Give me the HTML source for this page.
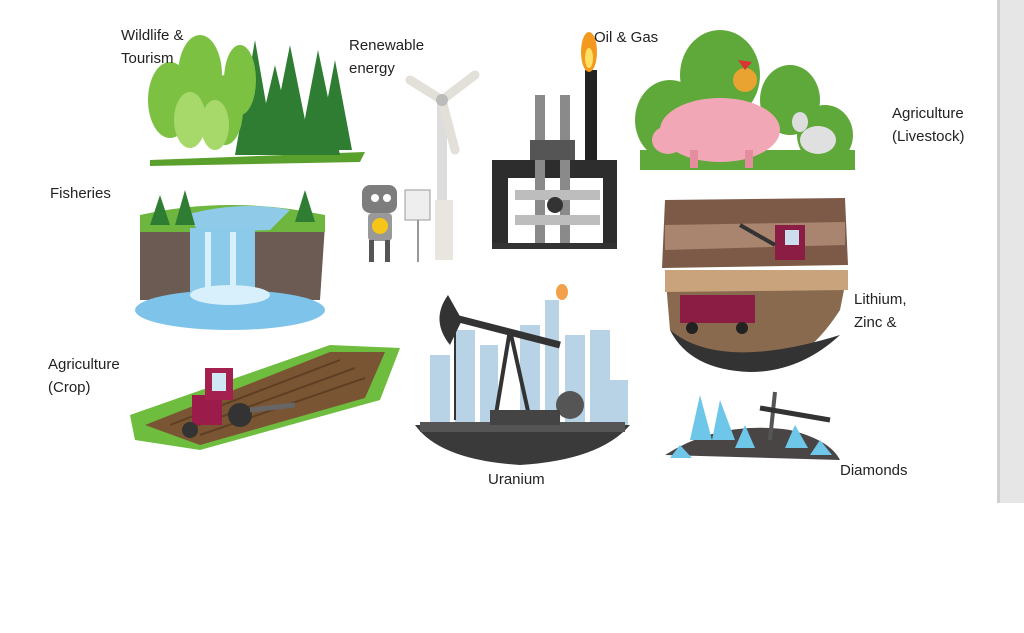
<!DOCTYPE html>
<html><head><meta charset="utf-8"><style>
body{margin:0;width:1024px;height:633px;background:#fff;overflow:hidden;font-family:"Liberation Sans",sans-serif}
svg{position:absolute;left:0;top:0}
.t{position:absolute;font-size:15px;color:#222;line-height:23px}
</style></head><body>
<svg width="1024" height="633" viewBox="0 0 1024 633">
<rect x="998" y="0" width="26" height="503" fill="#e6e6e6"/>
<rect x="997" y="0" width="3" height="503" fill="#cfcfcf"/>
<!-- forest -->
<path d="M150 160 L365 152 L360 162 L150 166Z" fill="#5aa02c"/>
<g fill="#2f7d32">
<polygon points="255,40 235,155 275,155"/><polygon points="290,45 268,155 312,155"/><polygon points="318,50 298,155 340,155"/><polygon points="335,60 318,150 352,150"/><polygon points="275,65 255,150 295,150"/>
</g>
<g fill="#7cc142"><ellipse cx="170" cy="100" rx="22" ry="38"/><ellipse cx="200" cy="75" rx="22" ry="40"/><ellipse cx="225" cy="110" rx="18" ry="35"/><ellipse cx="240" cy="80" rx="16" ry="35"/></g>
<g fill="#a6d86a"><ellipse cx="190" cy="120" rx="16" ry="28"/><ellipse cx="215" cy="125" rx="14" ry="25"/></g>
<!-- turbine -->
<rect x="437" y="100" width="10" height="160" fill="#ddd"/>
<rect x="435" y="200" width="18" height="60" fill="#e8e6df"/>
<g stroke="#e3e0da" stroke-width="9" stroke-linecap="round"><line x1="442" y1="100" x2="410" y2="80"/><line x1="442" y1="100" x2="475" y2="75"/><line x1="442" y1="100" x2="455" y2="150"/></g>
<circle cx="442" cy="100" r="6" fill="#bbb"/>
<rect x="405" y="190" width="25" height="30" fill="#eee" stroke="#999"/>
<line x1="418" y1="220" x2="418" y2="262" stroke="#999" stroke-width="2"/>
<!-- robot -->
<rect x="362" y="185" width="35" height="28" rx="8" fill="#7d7d7d"/>
<circle cx="375" cy="198" r="4" fill="#fff"/><circle cx="387" cy="198" r="4" fill="#fff"/>
<rect x="368" y="213" width="24" height="28" rx="4" fill="#999"/>
<circle cx="380" cy="226" r="8" fill="#f5c518"/>
<rect x="369" y="240" width="5" height="22" fill="#555"/><rect x="385" y="240" width="5" height="22" fill="#555"/>
<!-- oil gas -->
<rect x="585" y="70" width="12" height="110" fill="#222"/>
<ellipse cx="589" cy="52" rx="8" ry="20" fill="#f39a1e"/><ellipse cx="589" cy="58" rx="4" ry="10" fill="#ffe066"/>
<rect x="492" y="160" width="125" height="88" fill="#2d2d2d"/>
<rect x="508" y="178" width="95" height="72" fill="#fff"/>
<rect x="535" y="95" width="10" height="150" fill="#8a8a8a"/><rect x="560" y="95" width="10" height="150" fill="#8a8a8a"/>
<rect x="530" y="140" width="45" height="20" fill="#555"/>
<rect x="515" y="190" width="85" height="10" fill="#bdbdbd"/><rect x="515" y="215" width="85" height="10" fill="#bdbdbd"/>
<circle cx="555" cy="205" r="8" fill="#333"/>
<rect x="492" y="243" width="125" height="6" fill="#333"/>
<!-- livestock -->
<g fill="#5fa83a"><ellipse cx="720" cy="75" rx="40" ry="45"/><ellipse cx="670" cy="120" rx="35" ry="40"/><ellipse cx="790" cy="100" rx="30" ry="35"/><ellipse cx="825" cy="135" rx="28" ry="30"/></g>
<rect x="640" y="150" width="215" height="20" fill="#5fa83a"/>
<ellipse cx="720" cy="130" rx="60" ry="32" fill="#f2a7b6"/><ellipse cx="668" cy="140" rx="16" ry="14" fill="#f2a7b6"/>
<rect x="690" y="150" width="8" height="18" fill="#e38d9e"/><rect x="745" y="150" width="8" height="18" fill="#e38d9e"/>
<ellipse cx="818" cy="140" rx="18" ry="14" fill="#e0e0e0"/><ellipse cx="800" cy="122" rx="8" ry="10" fill="#ddd"/>
<circle cx="745" cy="80" r="12" fill="#e8a330"/><polygon points="745,70 738,60 752,62" fill="#d33"/>
<!-- waterfall -->
<path d="M140 225 L325 225 L320 300 L140 300Z" fill="#6b5b52"/>
<path d="M140 215 Q230 195 325 215 L325 232 L140 232Z" fill="#6fb63f"/>
<path d="M185 215 Q240 200 290 210 L270 230 L200 232Z" fill="#8fcbe8"/>
<rect x="190" y="228" width="65" height="70" fill="#8ccae9"/>
<rect x="205" y="232" width="6" height="60" fill="#d8f0fb"/><rect x="230" y="232" width="6" height="60" fill="#d8f0fb"/>
<ellipse cx="230" cy="310" rx="95" ry="20" fill="#7ec3ea"/>
<ellipse cx="230" cy="295" rx="40" ry="10" fill="#d8f0fb"/>
<g fill="#2e7d32"><polygon points="160,195 150,225 170,225"/><polygon points="185,190 175,225 195,225"/><polygon points="305,190 295,222 315,222"/></g>
<!-- mining -->
<path d="M665 200 L845 198 L848 265 L662 268Z" fill="#7d5a47"/>
<path d="M665 225 L845 222 L845 245 L665 250Z" fill="#a98570"/>
<path d="M665 270 L848 270 L840 310 Q800 372 750 370 Q690 368 670 330Z" fill="#8a6a4f"/>
<path d="M665 270 L848 270 L848 290 L665 292Z" fill="#c9a37b"/>
<path d="M670 330 Q720 372 840 335 Q800 372 750 372 Q690 370 670 330Z" fill="#333"/>
<rect x="775" y="225" width="30" height="35" fill="#8b1d44"/><rect x="785" y="230" width="14" height="15" fill="#cde"/>
<line x1="775" y1="245" x2="740" y2="225" stroke="#333" stroke-width="4"/>
<rect x="680" y="295" width="75" height="28" fill="#8b1d44"/>
<circle cx="692" cy="328" r="6" fill="#222"/><circle cx="742" cy="328" r="6" fill="#222"/>
<!-- tractor field -->
<path d="M130 415 L330 345 L400 348 L380 400 L200 450 L135 440Z" fill="#6ebd3f"/>
<path d="M145 425 L330 352 L385 352 L365 398 L200 445Z" fill="#7a5533"/>
<g stroke="#5e3f24" stroke-width="2"><line x1="170" y1="425" x2="340" y2="360"/><line x1="185" y1="430" x2="355" y2="368"/><line x1="200" y1="435" x2="365" y2="378"/></g>
<rect x="192" y="395" width="30" height="30" fill="#9b1b4a"/><rect x="205" y="368" width="28" height="32" fill="#a3204f"/>
<rect x="212" y="373" width="14" height="18" fill="#cfe8f4"/>
<circle cx="240" cy="415" r="12" fill="#333"/><circle cx="190" cy="430" r="8" fill="#333"/>
<line x1="250" y1="410" x2="295" y2="405" stroke="#666" stroke-width="5"/>
<!-- pumpjack -->
<g fill="#b9d3e6"><rect x="430" y="355" width="20" height="70"/><rect x="455" y="330" width="20" height="95"/><rect x="480" y="345" width="18" height="80"/><rect x="520" y="325" width="20" height="100"/><rect x="545" y="300" width="14" height="125"/><rect x="565" y="335" width="20" height="90"/><rect x="590" y="330" width="20" height="95"/><rect x="610" y="380" width="18" height="45"/></g>
<path d="M415 425 L630 425 Q600 460 520 465 Q440 460 415 425Z" fill="#3a3a3a"/>
<path d="M420 422 L625 422 L625 432 L420 432Z" fill="#555"/>
<line x1="455" y1="318" x2="560" y2="345" stroke="#333" stroke-width="7"/>
<path d="M448 295 Q430 320 450 345 L462 320Z" fill="#333"/>
<line x1="510" y1="330" x2="495" y2="420" stroke="#333" stroke-width="4"/><line x1="510" y1="330" x2="530" y2="420" stroke="#333" stroke-width="4"/>
<line x1="455" y1="330" x2="455" y2="420" stroke="#333" stroke-width="2"/>
<circle cx="570" cy="405" r="14" fill="#555"/>
<rect x="490" y="410" width="70" height="15" fill="#444"/>
<ellipse cx="562" cy="292" rx="6" ry="8" fill="#f2a04a"/>
<!-- diamonds -->
<path d="M665 455 Q720 420 790 430 Q830 440 840 460 Z" fill="#4a4545"/>
<g fill="#6ec6e8"><polygon points="700,395 690,440 712,440"/><polygon points="720,400 712,440 735,440"/><polygon points="745,425 735,448 755,448"/><polygon points="795,425 785,448 808,448"/><polygon points="820,440 810,455 832,455"/><polygon points="680,445 670,458 692,458"/></g>
<line x1="775" y1="392" x2="770" y2="440" stroke="#555" stroke-width="4"/>
<line x1="760" y1="408" x2="830" y2="420" stroke="#333" stroke-width="5"/>
</svg>
<div class="t" style="left:121px;top:24px">Wildlife &amp;<br>Tourism</div>
<div class="t" style="left:349px;top:34px">Renewable<br>energy</div>
<div class="t" style="left:594px;top:26px">Oil &amp; Gas</div>
<div class="t" style="left:892px;top:102px">Agriculture<br>(Livestock)</div>
<div class="t" style="left:50px;top:182px">Fisheries</div>
<div class="t" style="left:854px;top:288px">Lithium,<br>Zinc &amp;</div>
<div class="t" style="left:48px;top:353px">Agriculture<br>(Crop)</div>
<div class="t" style="left:488px;top:468px">Uranium</div>
<div class="t" style="left:840px;top:459px">Diamonds</div>
</body></html>
